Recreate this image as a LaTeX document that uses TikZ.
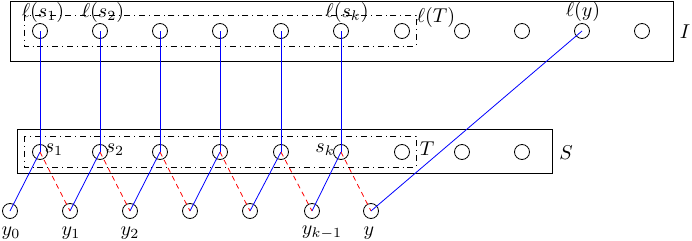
\documentclass[tikz,border=0pt]{standalone}
\begin{document}
\begin{tikzpicture}[x=0.5pt,y=-0.5pt,
  vtx/.style={circle,draw,minimum size=7.5pt,inner sep=0pt},
  box/.style={draw,line width=0.5pt},
  setbox/.style={draw,dash dot,line width=0.4pt},
  bl/.style={blue,line width=0.4pt},
  rd/.style={red,dash pattern=on 2.5pt off 2pt,line width=0.4pt},
  lab/.style={inner sep=0pt}]
\useasboundingbox (0,0) rectangle (692,241);
% outer boxes
\draw[box] (10,1.5) rectangle (673,61);
\draw[box] (17,129) rectangle (552,173);
\draw[setbox] (24,15) rectangle (416,46);
\draw[setbox] (24,136) rectangle (416,167);
% top row
\foreach \i/\x in {1/40,2/100,3/160,4/220,5/281,6/341,7/402,8/462,9/522,10/582,11/642}
  \node[vtx] (I\i) at (\x,31) {};
% middle row
\foreach \i/\x in {1/40,2/100,3/160,4/220,5/281,6/341,7/402,8/462,9/522}
  \node[vtx] (S\i) at (\x,152) {};
% bottom row
\foreach \i/\x in {0/10,1/70,2/130,3/190,4/250,5/312,6/371}
  \node[vtx] (Y\i) at (\x,211) {};
% labels
\node[lab] (lI1) at (43,13) {$\ell(s_1)$};
\node[lab] (lI2) at (103,13) {$\ell(s_2)$};
\node[lab] (lI6) at (347,13) {$\ell(s_k)$};
\node[lab] (lT) at (436,18) {$\ell(T)$};
\node[lab] (lI10) at (583,12) {$\ell(y)$};
\node[lab] (lI) at (685,32) {$I$};
\node[lab] (lS) at (566,153) {$S$};
\node[lab] (lTT) at (427,149) {$T$};
\node[lab] (ls1) at (54,150) {$s_1$};
\node[lab] (ls2) at (115,150) {$s_2$};
\node[lab] (lsk) at (325,150) {$s_k$};
\node[lab] (ly0) at (11,233) {$y_0$};
\node[lab] (ly1) at (71,233) {$y_1$};
\node[lab] (ly2) at (130,233) {$y_2$};
\node[lab] (ly5) at (322,233) {$y_{k-1}$};
\node[lab] (ly6) at (369,233) {$y$};
% connectors
\foreach \i in {1,...,6} \draw[bl] (I\i.center) -- (S\i.center);
\foreach \i/\j in {1/0,2/1,3/2,4/3,5/4,6/5} \draw[bl] (S\i.center) -- (Y\j.center);
\foreach \i in {1,...,6} \draw[rd] (S\i.center) -- (Y\i.center);
\draw[bl] (I10.center) -- (Y6.center);
\end{tikzpicture}
\end{document}
